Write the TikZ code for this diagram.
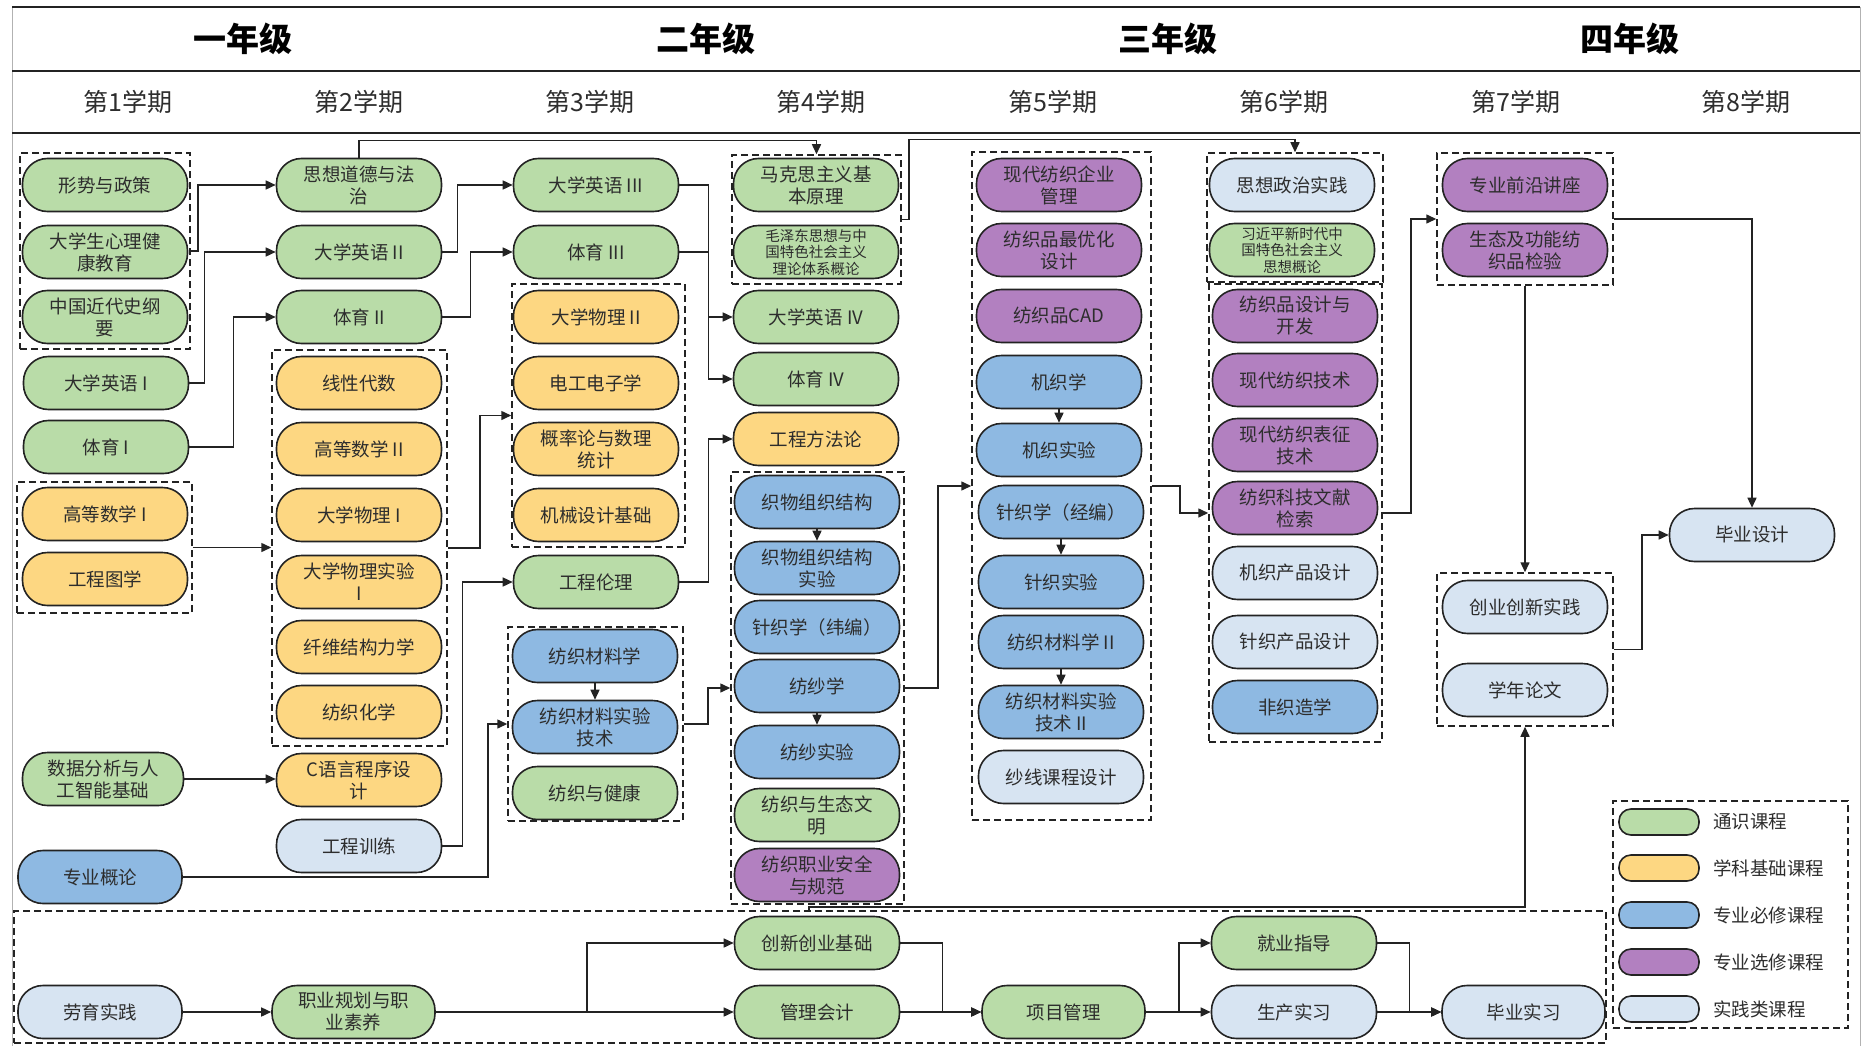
\documentclass[tikz,border=0pt]{standalone}
\usepackage{fontspec}
\setmainfont{Noto Sans CJK SC}
\usetikzlibrary{arrows.meta,calc}
\definecolor{cG}{RGB}{185,220,168}
\definecolor{cY}{RGB}{253,215,130}
\definecolor{cB}{RGB}{142,185,226}
\definecolor{cP}{RGB}{178,128,192}
\definecolor{cL}{RGB}{215,228,242}
\definecolor{cLine}{RGB}{35,35,35}
\definecolor{cText}{RGB}{45,45,45}
\tikzset{
  course/.style={draw=cLine, line width=1.6pt, rounded corners=25pt, minimum width=165pt, minimum height=53pt, inner sep=0pt, align=center, text=cText, font=\fontsize{18.5}{22}\selectfont},
  gen/.style={course, fill=cG},
  bas/.style={course, fill=cY},
  req/.style={course, fill=cB},
  ele/.style={course, fill=cP},
  pra/.style={course, fill=cL},
  small/.style={font=\fontsize{14.5}{16.5}\selectfont},
  grp/.style={draw=cLine, line width=1.5pt, dash pattern=on 7pt off 4pt, inner sep=0pt},
  arr/.style={draw=cLine, line width=1.5pt, -{Triangle[length=10pt,width=9pt]}},
  lnk/.style={draw=cLine, line width=1.5pt},
  yearlbl/.style={font=\fontsize{33}{36}\selectfont\bfseries, text=black},
  semlbl/.style={font=\fontsize{25}{28}\selectfont, text=cText},
  legpill/.style={draw=cLine, line width=1.6pt, rounded corners=12pt, minimum width=80pt, minimum height=26pt, inner sep=0pt},
  legtxt/.style={anchor=west, font=\fontsize{18.5}{22}\selectfont, text=cText, inner sep=0pt}
}
\begin{document}
\begin{tikzpicture}[x=1pt,y=-1pt]
\useasboundingbox (0,0) rectangle (1863,1046);
\fill[white] (0,0) rectangle (1863,1046);
% frame and header
\draw[gray!60, line width=1pt] (12,7) -- (12,1046);
\draw[gray!60, line width=1pt] (1860,7) -- (1860,1046);
\draw[cLine, line width=2pt] (12,7) -- (1860,7);
\draw[cLine, line width=2pt] (12,71) -- (1860,71);
\draw[cLine, line width=2pt] (12,133) -- (1860,133);
\node[yearlbl] (y1) at (243,39) {一年级};
\node[yearlbl] (y2) at (706,39) {二年级};
\node[yearlbl] (y3) at (1168,39) {三年级};
\node[yearlbl] (y4) at (1630,39) {四年级};
\node[semlbl] (s1) at (128,102) {第1学期};
\node[semlbl] (s2) at (359,102) {第2学期};
\node[semlbl] (s3) at (590,102) {第3学期};
\node[semlbl] (s4) at (821,102) {第4学期};
\node[semlbl] (s5) at (1053,102) {第5学期};
\node[semlbl] (s6) at (1284,102) {第6学期};
\node[semlbl] (s7) at (1516,102) {第7学期};
\node[semlbl] (s8) at (1746,102) {第8学期};

% group boxes
\node[grp, minimum width=170pt, minimum height=196pt] (g1a) at (105,251) {};
\node[grp, minimum width=175pt, minimum height=131pt] (g1b) at (104.5,547.5) {};
\node[grp, minimum width=175pt, minimum height=396pt] (g2) at (359.5,548) {};
\node[grp, minimum width=173pt, minimum height=263pt] (g3a) at (598.5,415.5) {};
\node[grp, minimum width=175pt, minimum height=194pt] (g3b) at (595.5,724) {};
\node[grp, minimum width=169pt, minimum height=129pt] (g4a) at (816.5,219.5) {};
\node[grp, minimum width=173pt, minimum height=432pt] (g4b) at (817.5,688) {};
\node[grp, minimum width=179pt, minimum height=668pt] (g5) at (1061.5,486) {};
\node[grp, minimum width=176pt, minimum height=129pt] (g6a) at (1295,217.5) {};
\node[grp, minimum width=173pt, minimum height=458pt] (g6b) at (1295.5,513) {};
\node[grp, minimum width=176pt, minimum height=132pt] (g7a) at (1525,219) {};
\node[grp, minimum width=176pt, minimum height=153pt] (g7b) at (1525,649.5) {};
\node[grp, minimum width=1592pt, minimum height=132pt] (gb) at (810,977) {};
\node[grp, minimum width=235pt, minimum height=227pt] (leg) at (1730.5,914.5) {};

% column 1
\node[gen] (n11) at (105,185) {形势与政策};
\node[gen] (n12) at (105,252) {大学生心理健\\康教育};
\node[gen] (n13) at (105,317) {中国近代史纲\\要};
\node[gen] (n14) at (106,383) {大学英语 I};
\node[gen] (n15) at (106,447) {体育 I};
\node[bas] (n16) at (105,514) {高等数学 I};
\node[bas] (n17) at (105,579) {工程图学};
\node[gen, minimum width=161pt] (n18) at (103,779) {数据分析与人\\工智能基础};
\node[req, minimum width=164pt] (n19) at (100,877) {专业概论};
\node[pra, minimum width=164pt] (b1) at (100,1012) {劳育实践};

% column 2
\node[gen] (n21) at (359,185) {思想道德与法\\治};
\node[gen] (n22) at (359,252) {大学英语 II};
\node[gen] (n23) at (359,317) {体育 II};
\node[bas] (n24) at (359,383) {线性代数};
\node[bas] (n25) at (359,449) {高等数学 II};
\node[bas] (n26) at (359,515) {大学物理 I};
\node[bas] (n27) at (359,582) {大学物理实验\\I};
\node[bas] (n28) at (359,647) {纤维结构力学};
\node[bas] (n29) at (359,712) {纺织化学};
\node[bas] (n2a) at (359,780) {C语言程序设\\计};
\node[pra] (n2b) at (359,846) {工程训练};
\node[gen, minimum width=163pt] (b2) at (353.5,1012) {职业规划与职\\业素养};

% column 3
\node[gen] (n31) at (596,185) {大学英语 III};
\node[gen] (n32) at (596,252) {体育 III};
\node[bas] (n33) at (596,317) {大学物理 II};
\node[bas] (n34) at (596,383) {电工电子学};
\node[bas] (n35) at (596,449) {概率论与数理\\统计};
\node[bas] (n36) at (596,515) {机械设计基础};
\node[gen] (n37) at (596,582) {工程伦理};
\node[req] (n38) at (595,656) {纺织材料学};
\node[req] (n39) at (595,727) {纺织材料实验\\技术};
\node[gen] (n3a) at (595,793) {纺织与健康};

% column 4
\node[gen] (n41) at (816,185) {马克思主义基\\本原理};
\node[gen, small] (n42) at (816,252) {毛泽东思想与中\\国特色社会主义\\理论体系概论};
\node[gen] (n43) at (816,317) {大学英语 IV};
\node[gen] (n44) at (816,379) {体育 IV};
\node[bas] (n45) at (816,439) {工程方法论};
\node[req] (n46) at (817,502) {织物组织结构};
\node[req] (n47) at (817,568) {织物组织结构\\实验};
\node[req] (n48) at (817,627) {针织学（纬编）};
\node[req] (n49) at (817,686) {纺纱学};
\node[req] (n4a) at (817,752) {纺纱实验};
\node[gen] (n4b) at (817,815) {纺织与生态文\\明};
\node[ele] (n4c) at (817,875) {纺织职业安全\\与规范};
\node[gen] (b3) at (817,943) {创新创业基础};
\node[gen] (b4) at (817,1012) {管理会计};

% column 5
\node[ele] (n51) at (1059,185) {现代纺织企业\\管理};
\node[ele] (n52) at (1059,250) {纺织品最优化\\设计};
\node[ele] (n53) at (1059,316) {纺织品CAD};
\node[req] (n54) at (1059,382) {机织学};
\node[req] (n55) at (1059,450) {机织实验};
\node[req] (n56) at (1061,512) {针织学（经编）};
\node[req] (n57) at (1061,582) {针织实验};
\node[req] (n58) at (1061,642) {纺织材料学 II};
\node[req] (n59) at (1061,712) {纺织材料实验\\技术 II};
\node[pra] (n5a) at (1061,777) {纱线课程设计};
\node[gen, minimum width=163pt] (b5) at (1063.5,1012) {项目管理};

% column 6
\node[pra] (n61) at (1292,185) {思想政治实践};
\node[gen, small] (n62) at (1292,250) {习近平新时代中\\国特色社会主义\\思想概论};
\node[ele] (n63) at (1295,316) {纺织品设计与\\开发};
\node[ele] (n64) at (1295,380) {现代纺织技术};
\node[ele] (n65) at (1295,445) {现代纺织表征\\技术};
\node[ele] (n66) at (1295,508) {纺织科技文献\\检索};
\node[pra] (n67) at (1295,573) {机织产品设计};
\node[pra] (n68) at (1295,642) {针织产品设计};
\node[req] (n69) at (1295,707) {非织造学};
\node[gen] (b6) at (1294,943) {就业指导};
\node[pra] (b7) at (1294,1012) {生产实习};

% column 7 and 8
\node[ele] (n71) at (1525,185) {专业前沿讲座};
\node[ele] (n72) at (1525,250) {生态及功能纺\\织品检验};
\node[pra] (n73) at (1525,607) {创业创新实践};
\node[pra] (n74) at (1525,690) {学年论文};
\node[pra, minimum width=163pt] (b8) at (1523.5,1012) {毕业实习};
\node[pra] (n81) at (1752,535) {毕业设计};

% legend
\node[legpill, fill=cG] (l1) at (1659,822) {};
\node[legpill, fill=cY] (l2) at (1659,868) {};
\node[legpill, fill=cB] (l3) at (1659,915) {};
\node[legpill, fill=cP] (l4) at (1659,962) {};
\node[legpill, fill=cL] (l5) at (1659,1009) {};
\node[legtxt] (t1) at (1713,822) {通识课程};
\node[legtxt] (t2) at (1713,868) {学科基础课程};
\node[legtxt] (t3) at (1713,915) {专业必修课程};
\node[legtxt] (t4) at (1713,962) {专业选修课程};
\node[legtxt] (t5) at (1713,1009) {实践类课程};

% connectors
\draw[arr] (g1a.east) -- ++(7,0) |- (n21.west);
\draw[arr] (n14.east) -- ++(15,0) |- (n22.west);
\draw[arr] (n15.east) -- ++(44,0) |- (n23.west);
\draw[arr] (g1b.east) -- (g1b.east -| g2.west);
\draw[arr] (n18.east) -- (n18.east -| n2a.west);
\draw[arr] (n21.north) -- ++(0,-17) -| (g4a.north);
\draw[arr] (g4a.east) -- ++(7,0) -- ++(0,-80) -| (g6a.north);
\draw[arr] (n22.east) -- ++(15,0) |- (n31.west);
\draw[arr] (n23.east) -- ++(28,0) |- (n32.west);
\draw[arr] (g2.east) -- ++(32,0) |- (g3a.west);
\draw[arr] (n2b.east) -- ++(20,0) |- (n37.west);
\draw[arr] (n19.east) -- ++(305,0) |- (g3b.west);
\draw[arr] (n31.east) -- ++(29,0) |- (n43.west);
\draw[arr] (n32.east) -- ++(29,0) |- (n44.west);
\draw[arr] (n37.east) -- ++(29,0) |- (n45.west);
\draw[arr] (g3b.east) -- ++(24,0) |- (g4b.west);
\draw[arr] (n38.south) -- (n39.north);
\draw[arr] (n46.south) -- (n47.north);
\draw[arr] (n49.south) -- (n4a.north);
\draw[arr] (g4b.east) -- ++(33,0) |- (g5.west);
\draw[arr] (n54.south) -- (n55.north);
\draw[arr] (n56.south) -- (n57.north);
\draw[arr] (n58.south) -- (n59.north);
\draw[arr] (g5.east) -- ++(28,0) |- (g6b.west);
\draw[arr] (g6b.east) -- ++(28,0) |- (g7a.west);
\draw[arr] (g7a.east) -| (n81.north);
\draw[arr] (g7a.south) -- (g7b.north);
\draw[arr] (g7b.east) -- ++(28,0) |- (n81.west);
% bottom row
\draw[arr] (b1.east) -- (b2.west);
\draw[arr] (b2.east) -- (b4.west);
\draw[arr] (b2.east) -- ++(151,0) |- (b3.west);
\draw[arr] (b4.east) -- (b5.west);
\draw[arr] (b3.east) -- ++(42,0) |- (b5.west);
\draw[arr] (b5.east) -- (b7.west);
\draw[arr] (b5.east) -- ++(33,0) |- (b6.west);
\draw[arr] (b7.east) -- (b8.west);
\draw[arr] (b6.east) -- ++(32,0) |- (b8.west);
\coordinate (gbstart) at (809,911);
\draw[arr] (gbstart) -- ++(0,-4) -| (g7b.south);
\end{tikzpicture}
\end{document}
